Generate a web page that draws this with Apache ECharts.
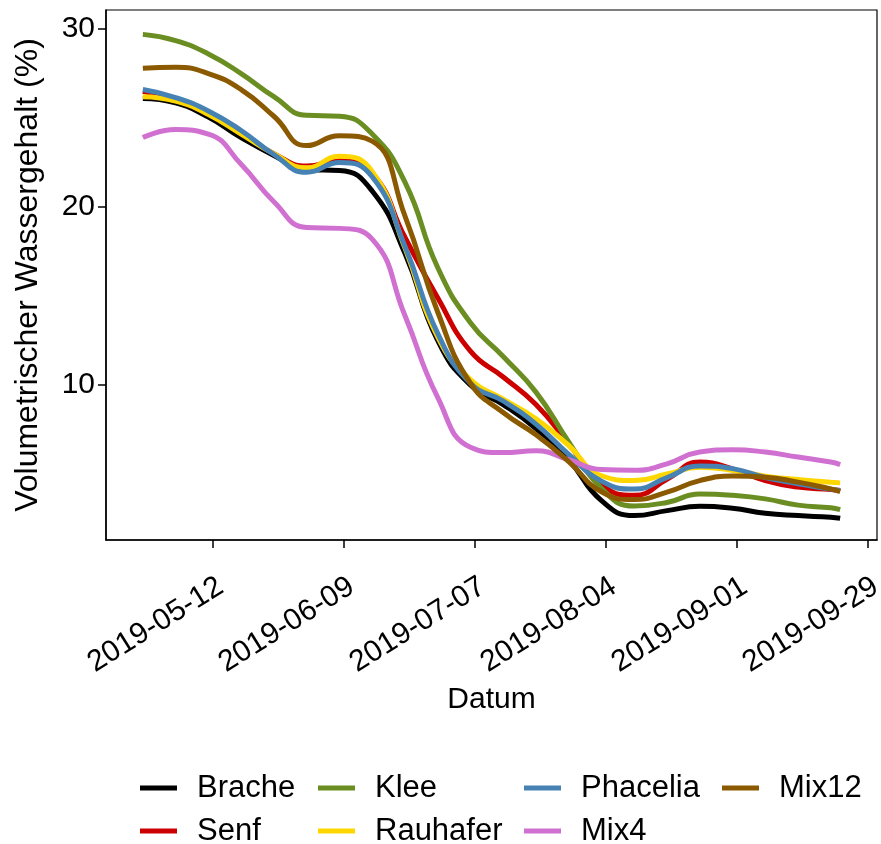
<!DOCTYPE html>
<html>
<head>
<meta charset="utf-8">
<script src="https://cdn.jsdelivr.net/npm/echarts@6/dist/echarts.min.js"></script>
<style>
html,body{margin:0;padding:0;background:#fff;}
#chart{width:881px;height:844px;}
</style>
</head>
<body>
<div id="chart"></div>
<script>
// ---- data ----
var dates = ['2019-04-27','2019-05-04','2019-05-11','2019-05-18','2019-05-25','2019-06-01','2019-06-08','2019-06-15','2019-06-22','2019-06-29','2019-07-06','2019-07-13','2019-07-20','2019-07-27','2019-08-03','2019-08-10','2019-08-17','2019-08-24','2019-08-31','2019-09-07','2019-09-14','2019-09-21','2019-09-23'];
var brache   = [26.1, 25.85, 25.05, 23.9, 22.9, 22.1, 22.05, 20.9, 17.4, 12.5, 10.0, 8.9, 7.55, 5.8, 3.5, 2.66, 2.94, 3.18, 3.07, 2.79, 2.66, 2.57, 2.51];
var senf     = [26.5, 26.0, 25.25, 24.15, 23.0, 22.3, 22.6, 21.9, 18.3, 14.9, 11.9, 10.45, 8.9, 6.7, 4.4, 3.8, 4.7, 5.67, 5.29, 4.63, 4.26, 4.13, 4.07];
var klee     = [29.7, 29.35, 28.6, 27.5, 26.2, 25.15, 25.1, 24.1, 21.4, 16.6, 13.5, 11.6, 9.6, 6.8, 4.2, 3.2, 3.4, 3.87, 3.8, 3.6, 3.25, 3.1, 3.0];
var rauhafer = [26.2, 25.95, 25.2, 24.1, 23.0, 22.2, 22.85, 22.0, 17.7, 12.7, 10.3, 9.2, 8.1, 6.6, 4.9, 4.63, 5.0, 5.38, 5.2, 4.88, 4.69, 4.54, 4.5];
var phacelia = [26.6, 26.15, 25.4, 24.3, 22.95, 21.95, 22.5, 21.7, 17.8, 12.9, 10.1, 9.1, 7.8, 6.1, 4.6, 4.15, 4.8, 5.45, 5.3, 4.8, 4.45, 4.15, 4.07];
var mix4     = [23.9, 24.35, 24.1, 22.4, 20.3, 18.85, 18.8, 18.2, 13.9, 9.3, 6.5, 6.2, 6.3, 5.8, 5.25, 5.21, 5.57, 6.23, 6.36, 6.23, 5.95, 5.67, 5.53];
var mix12    = [27.8, 27.85, 27.5, 26.6, 25.1, 23.45, 24.0, 23.7, 19.5, 14.1, 10.1, 8.45, 7.2, 5.7, 4.0, 3.56, 3.98, 4.63, 4.88, 4.82, 4.54, 4.16, 4.01];
var seriesNames = ['Brache','Senf','Klee','Rauhafer','Phacelia','Mix4','Mix12'];
var seriesValues = [brache, senf, klee, rauhafer, phacelia, mix4, mix12];
var xTicks = ['2019-05-12','2019-06-09','2019-07-07','2019-08-04','2019-09-01','2019-09-29'];
var yTicks = [10, 20, 30];
var xMin = '2019-04-19T03:00:00', xMax = '2019-09-30T21:00:00';
var yMin = 1.29, yMax = 31.07;

// ---- helpers ----
function ts(s){ return new Date(s.length === 10 ? s + 'T00:00:00' : s).getTime(); }
function pad(n){ return (n < 10 ? '0' : '') + n; }
function fmtDate(v){ var d = new Date(Math.round(v)); return d.getFullYear() + '-' + pad(d.getMonth()+1) + '-' + pad(d.getDate()); }

// ---- styles ----
var colors = ['#000000','#CD0000','#6B8E23','#FFD700','#4682B4','#D070D0','#8B5A00'];
var FONT = 'Liberation Sans, Arial, sans-serif';

var chart = echarts.init(document.getElementById('chart'), null, {renderer:'canvas'});

var series = seriesNames.map(function(n, i){
  return {
    name: n, type: 'line', smooth: 0.5, showSymbol: false, symbol: 'none',
    data: dates.map(function(d, j){ return [ts(d), seriesValues[i][j]]; }),
    lineStyle: {width: 5, color: colors[i]},
    itemStyle: {color: colors[i]},
    emphasis: {disabled: true},
    animation: false
  };
});

function legendCol(names, left){
  return {
    data: names, orient: 'vertical', left: left, top: 767, height: 120,
    icon: 'rect', itemWidth: 37, itemHeight: 5, itemGap: 11,
    textStyle: {fontFamily: FONT, fontSize: 31, color: '#000', lineHeight: 32, padding: [0,0,0,15]},
    selectedMode: false
  };
}

var xTickTs = xTicks.map(ts);

chart.setOption({
  animation: false,
  backgroundColor: '#fff',
  color: colors,
  grid: {left: 106, right: 4, top: 10, bottom: 304, outerBoundsMode: 'none', containLabel: false,
         show: true, borderColor: '#000', borderWidth: 1.2, backgroundColor: 'transparent'},
  legend: [
    legendCol(['Brache','Senf'], 135),
    legendCol(['Klee','Rauhafer'], 313),
    legendCol(['Phacelia','Mix4'], 519),
    legendCol(['Mix12'], 717)
  ],
  xAxis: {
    type: 'value', min: ts(xMin), max: ts(xMax), scale: true,
    name: 'Datum', nameLocation: 'middle', nameGap: 134,
    nameTextStyle: {fontFamily: FONT, fontSize: 30, color: '#000'},
    axisLine: {show: true, lineStyle: {color: '#000', width: 1.5}},
    axisTick: {show: true, length: 8, lineStyle: {color: '#000', width: 1.5}, customValues: xTickTs},
    axisLabel: {
      customValues: xTickTs, rotate: 32, margin: 49, padding: [0,-9,0,0],
      fontFamily: FONT, fontSize: 30, color: '#000',
      formatter: function(v){ return fmtDate(v); }
    },
    splitLine: {show: false}
  },
  yAxis: {
    type: 'value', min: yMin, max: yMax,
    name: 'Volumetrischer Wassergehalt (%)', nameLocation: 'middle', nameGap: 62, nameRotate: 90,
    nameTextStyle: {fontFamily: FONT, fontSize: 32, color: '#000'},
    axisLine: {show: true, lineStyle: {color: '#000', width: 1.5}},
    axisTick: {show: true, length: 8, lineStyle: {color: '#000', width: 1.5}, customValues: yTicks},
    axisLabel: {customValues: yTicks, margin: 11, fontFamily: FONT, fontSize: 30, color: '#000'},
    splitLine: {show: false}
  },
  series: series
});
</script>
</body>
</html>
